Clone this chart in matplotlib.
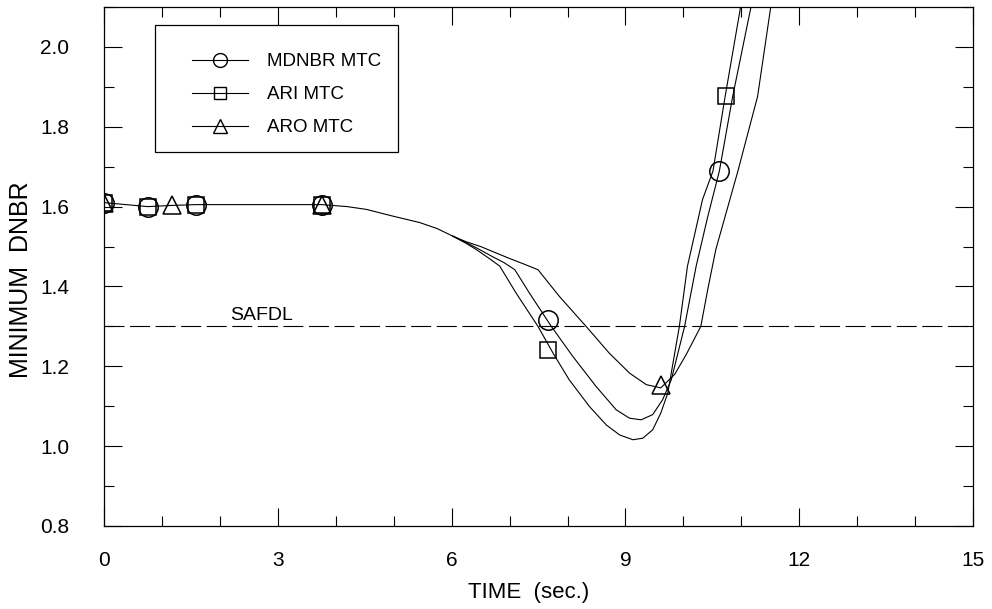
import numpy as np
import matplotlib
matplotlib.use("Agg")
import matplotlib.pyplot as plt
from matplotlib.lines import Line2D
from matplotlib.patches import Rectangle

plt.rcParams['font.family'] = ['Liberation Sans', 'DejaVu Sans']

# --- данные ---
# общий участок (до расхождения кривых)
t_common = [0.0, 0.76, 1.17, 1.59, 2.5, 3.0, 3.76, 4.2, 4.53, 4.99, 5.45, 5.75, 6.02]
y_common = [1.610, 1.600, 1.603, 1.605, 1.605, 1.605, 1.605, 1.600, 1.593, 1.576, 1.560, 1.545, 1.526]

# MDNBR MTC
t_mdnbr = [6.25, 6.45, 6.7, 6.9, 7.09, 7.34, 7.72, 8.09, 8.49, 8.84, 9.07, 9.27, 9.47, 9.64, 9.79,
           10.02, 10.22, 10.42, 10.62, 10.85, 11.17, 11.22]
y_mdnbr = [1.510, 1.495, 1.475, 1.46, 1.442, 1.384, 1.30, 1.225, 1.15, 1.091, 1.070, 1.066, 1.079,
           1.116, 1.166, 1.30, 1.451, 1.575, 1.689, 1.876, 2.103, 2.15]

# ARI MTC
t_ari = [6.25, 6.42, 6.65, 6.83, 7.11, 7.49, 7.75, 8.03, 8.38, 8.67, 8.90, 9.13, 9.30, 9.47, 9.61, 9.73,
         9.93, 10.07, 10.33, 10.51, 10.72, 10.99, 11.04]
y_ari = [1.508, 1.493, 1.47, 1.451, 1.384, 1.30, 1.233, 1.166, 1.099, 1.053, 1.028, 1.016, 1.020, 1.041,
         1.083, 1.133, 1.30, 1.451, 1.618, 1.689, 1.876, 2.103, 2.15]

# ARO MTC
t_aro = [6.25, 6.5, 7.0, 7.25, 7.49, 7.86, 8.32, 8.72, 9.07, 9.36, 9.61, 9.85, 10.05, 10.30, 10.43,
         10.56, 10.94, 11.28, 11.51, 11.57]
y_aro = [1.512, 1.50, 1.47, 1.456, 1.442, 1.375, 1.30, 1.233, 1.183, 1.154, 1.146, 1.18, 1.23, 1.30,
         1.40, 1.493, 1.689, 1.876, 2.103, 2.15]

# маркеры
mk_mdnbr_t = [0.0, 0.76, 1.59, 3.76, 7.67, 10.62]
mk_mdnbr_y = [1.61, 1.60, 1.605, 1.605, 1.317, 1.688]
mk_ari_t = [0.0, 0.76, 1.59, 3.76, 7.67, 10.74]
mk_ari_y = [1.61, 1.60, 1.605, 1.605, 1.242, 1.877]
mk_aro_t = [0.0, 1.17, 3.76, 9.62]
mk_aro_y = [1.61, 1.605, 1.605, 1.154]

safdl = 1.30
labels = ["MDNBR MTC", "ARI MTC", "ARO MTC"]

fig = plt.figure(figsize=(9.92, 6.09), dpi=100)
ax = fig.add_axes([0.1048, 0.1363, 0.8762, 0.8522])

lw = 0.8
ax.plot(t_common, y_common, color='k', lw=lw)
for t, y in [(t_mdnbr, y_mdnbr), (t_ari, y_ari), (t_aro, y_aro)]:
    # соединяем с общим участком
    ax.plot([t_common[-1]] + t, [y_common[-1]] + y, color='k', lw=lw)

ax.plot(mk_mdnbr_t, mk_mdnbr_y, ls='none', marker='o', ms=14, mfc='none', mec='k', mew=1.1)
ax.plot(mk_ari_t, mk_ari_y, ls='none', marker='s', ms=11, mfc='none', mec='k', mew=1.1)
ax.plot(mk_aro_t, mk_aro_y, ls='none', marker='^', ms=13, mfc='none', mec='k', mew=1.1)

ax.axhline(safdl, color='k', lw=0.8, dashes=(18, 5))
ax.text(2.17, 1.317, "SAFDL", fontsize=14, ha='left', va='baseline')

ax.set_xlim(0, 15)
ax.set_ylim(0.8, 2.1)
ax.set_xticks(np.arange(0, 16, 3))
ax.set_xticks(np.arange(0, 16, 1), minor=True)
ax.set_yticks(np.arange(0.8, 2.01, 0.2))
ax.set_yticks(np.arange(0.8, 2.11, 0.1), minor=True)
ax.set_yticklabels([f"{v:.1f}" for v in np.arange(0.8, 2.01, 0.2)])

ax.tick_params(which='both', direction='in', top=True, right=True, width=0.8, labelsize=15)
ax.tick_params(axis='x', which='major', length=13, pad=18)
ax.tick_params(axis='y', which='major', length=13, pad=25)
ax.tick_params(which='minor', length=7)
for s in ax.spines.values():
    s.set_linewidth(0.9)

ax.set_xlabel("TIME  (sec.)", fontsize=16)
ax.set_ylabel("MINIMUM  DNBR", fontsize=18)
ax.xaxis.set_label_coords(0.488, -0.108)
ax.yaxis.set_label_coords(-0.0817, 0.474)

# легенда
handles = [
    Line2D([], [], color='k', lw=lw, marker='o', ms=10, mfc='none', mec='k'),
    Line2D([], [], color='k', lw=lw, marker='s', ms=9, mfc='none', mec='k'),
    Line2D([], [], color='k', lw=lw, marker='^', ms=10, mfc='none', mec='k'),
]
ax.legend(handles, labels, loc='center left', bbox_to_anchor=(0.101, 0.831),
          frameon=False, fontsize=13.5, borderpad=0, borderaxespad=0,
          handlelength=3.0, handletextpad=1.0, labelspacing=0.85)
ax.add_patch(Rectangle((0.0587, 0.7206), 0.2796, 0.2447, transform=ax.transAxes,
                       fill=False, lw=0.9, ec='k'))

fig.savefig("out.png", dpi=100)
